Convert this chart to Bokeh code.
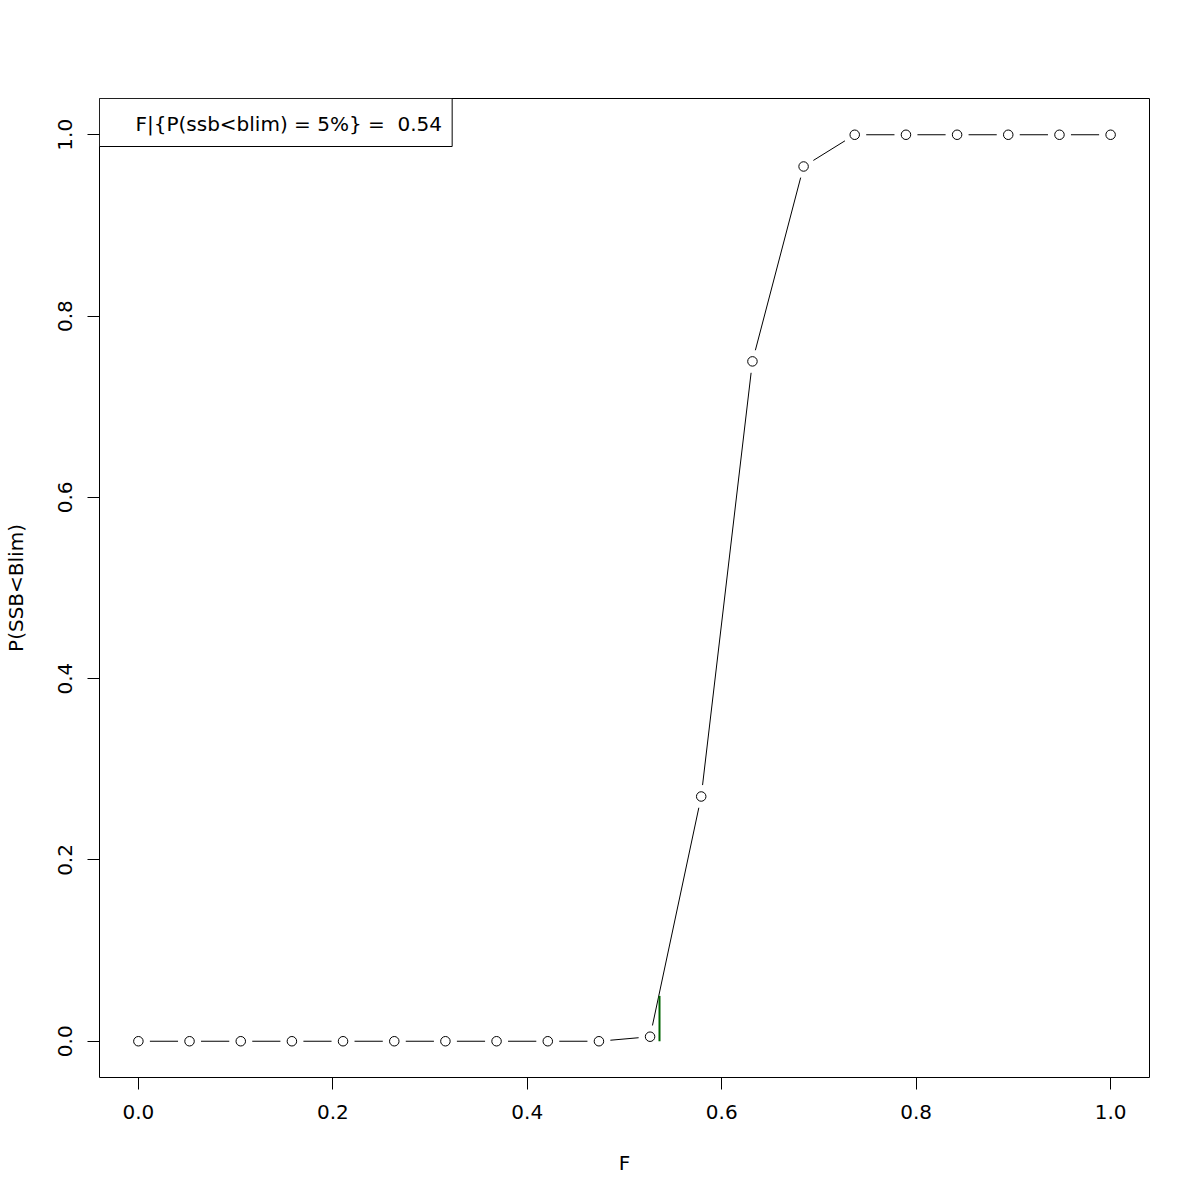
import numpy as np
from bokeh.plotting import figure
from bokeh.models import Range1d, FixedTicker, CustomJSTickFormatter
from bokeh.core.properties import value
from bokeh.embed import file_html
from bokeh.resources import INLINE

# ---- data ----
f_values = [0.0, 0.0526, 0.1053, 0.1579, 0.2105, 0.2632, 0.3158, 0.3684, 0.4211, 0.4737,
            0.5263, 0.5789, 0.6316, 0.6842, 0.7368, 0.7895, 0.8421, 0.8947, 0.9474, 1.0]
p_values = [0.0, 0.0, 0.0, 0.0, 0.0, 0.0, 0.0, 0.0, 0.0, 0.0,
            0.005, 0.27, 0.75, 0.965, 1.0, 1.0, 1.0, 1.0, 1.0, 1.0]
f_lim = 0.536
p_lim = 0.05
legend_text = "F|{P(ssb<blim) = 5%} =\u00a0 0.54"
ticks = [0.0, 0.2, 0.4, 0.6, 0.8, 1.0]

FONT = "DejaVu Sans"
FS = "20px"
W, H = 1184, 1184
ML, MT = 98, 98
FW, FH = 1051, 979
MR, MB = W - ML - FW, H - MT - FH
x0, x1 = -0.04, 1.04
y0, y1 = -0.04, 1.04

p = figure(width=W, height=H, output_backend="svg", toolbar_location=None,
           x_range=Range1d(x0, x1), y_range=Range1d(y0, y1),
           min_border_left=ML, min_border_right=MR, min_border_top=MT, min_border_bottom=MB,
           x_axis_label="F", y_axis_label="P(SSB<Blim)")
p.grid.visible = False
p.outline_line_color = "black"
p.outline_line_width = 1
p.background_fill_color = "white"
p.border_fill_color = "white"

fmt = CustomJSTickFormatter(code="return tick.toFixed(1);")
for ax in (p.xaxis[0], p.yaxis[0]):
    ax.ticker = FixedTicker(ticks=ticks)
    ax.formatter = fmt
    ax.axis_line_color = None
    ax.major_tick_out = 12
    ax.major_tick_in = 0
    ax.minor_tick_line_color = None
    ax.major_tick_line_color = "black"
    ax.major_label_text_font = FONT
    ax.major_label_text_font_size = FS
    ax.major_label_text_color = "black"
    ax.axis_label_text_font = FONT
    ax.axis_label_text_font_size = FS
    ax.axis_label_text_font_style = "normal"
    ax.axis_label_text_color = "black"
p.xaxis.major_label_standoff = 15
p.xaxis.axis_label_standoff = 29
p.yaxis.major_label_orientation = "vertical"
p.yaxis.major_label_standoff = 15
p.yaxis.axis_label_standoff = 28

# ---- lines with gaps around points (R type="b") ----
sx = FW / (x1 - x0)
sy = FH / (y1 - y0)
gap = 11.5
xs = np.array(f_values)
ys = np.array(p_values)
sx0, sy0, sx1, sy1 = [], [], [], []
for i in range(len(xs) - 1):
    dxp = (xs[i + 1] - xs[i]) * sx
    dyp = (ys[i + 1] - ys[i]) * sy
    L = np.hypot(dxp, dyp)
    if L <= 2 * gap:
        continue
    ux, uy = dxp / L, dyp / L
    sx0.append(xs[i] + gap * ux / sx)
    sy0.append(ys[i] + gap * uy / sy)
    sx1.append(xs[i + 1] - gap * ux / sx)
    sy1.append(ys[i + 1] - gap * uy / sy)
p.segment(x0=sx0, y0=sy0, x1=sx1, y1=sy1, line_color="black", line_width=1)

p.scatter(x=f_values, y=p_values, marker="circle", size=9.5,
          fill_color=None, line_color="black", line_width=1)

# ---- F limit marker ----
p.segment(x0=[f_lim], y0=[0.0], x1=[f_lim], y1=[p_lim], line_color="#006400", line_width=2)

# ---- legend box ----
bw = 353 / sx
bh = 48 / sy
p.quad(left=[x0], right=[x0 + bw], top=[y1], bottom=[y1 - bh],
       fill_color="white", line_color="black", line_width=1)
p.text(x=[x0 + 36 / sx], y=[y1 - 25 / sy], text=[legend_text],
       text_font=value(FONT), text_font_size=FS, text_color="black",
       text_baseline="middle", text_align="left")

open("out.html", "w").write(file_html(p, INLINE))
